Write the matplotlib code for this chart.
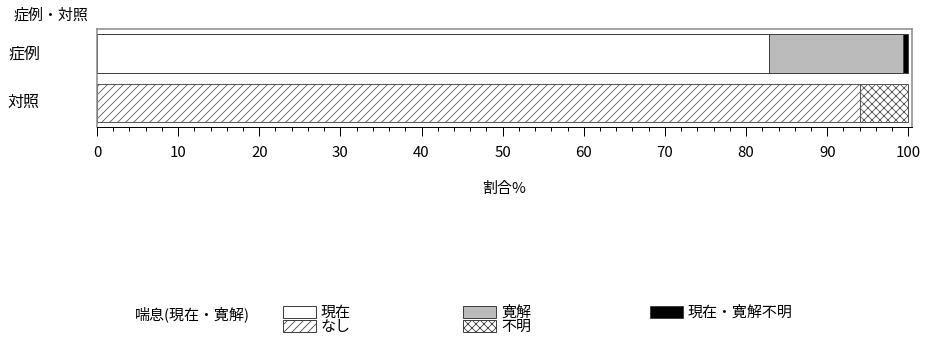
import matplotlib
matplotlib.use("Agg")
import matplotlib.pyplot as plt
from matplotlib.patches import Rectangle
from matplotlib.transforms import blended_transform_factory

plt.rcParams['font.family'] = ['Noto Sans CJK JP', 'DejaVu Sans']
plt.rcParams['hatch.linewidth'] = 0.8

# data
groups = ["症例", "対照"]
case_labels = ["現在", "寛解", "現在・寛解不明"]
case_values = [82.8, 16.5, 0.7]
ctrl_labels = ["なし", "不明"]
ctrl_values = [94.1, 5.9]

case_styles = [dict(facecolor="white", hatch=None),
               dict(facecolor="#bbbbbb", hatch=None),
               dict(facecolor="black", hatch=None)]
ctrl_styles = [dict(facecolor="white", hatch="///"),
               dict(facecolor="white", hatch="xxx")]

W, H = 927, 338
fig = plt.figure(figsize=(W / 72, H / 72), dpi=72)
ax = fig.add_axes([97 / W, (H - 127) / H, 815 / W, 98 / H])

edge = "#404040"
left = 0
for v, st in zip(case_values, case_styles):
    ax.barh(0, v, left=left, height=0.8, edgecolor=edge, linewidth=1, **st)
    left += v
left = 0
for v, st in zip(ctrl_values, ctrl_styles):
    ax.barh(1, v, left=left, height=0.78, edgecolor="#555555", linewidth=1, **st)
    left += v

ax.set_xlim(0, 100.45)
ax.set_ylim(1.49, -0.5)
for s in ["top", "right", "left"]:
    ax.spines[s].set_color("#888888")
    ax.spines[s].set_linewidth(1.5)
ax.spines["bottom"].set_color("black")
ax.spines["bottom"].set_linewidth(1)

ax.set_xticks(range(0, 101, 10))
ax.set_xticks(range(0, 101, 2), minor=True)
ax.tick_params(axis="x", which="major", length=9, width=1, labelsize=15, pad=10)
ax.tick_params(axis="x", which="minor", length=4, width=1)
ax.set_yticks([])
ax.set_xlabel("割合%", fontsize=15, labelpad=22)

tr = blended_transform_factory(fig.transFigure, ax.transData)
for i, g in enumerate(groups):
    ax.text(8 / W, i, g, transform=tr, ha="left", va="center", fontsize=16)
fig.text(13 / W, 1 - 15 / H, "症例・対照", ha="left", va="center", fontsize=15)

# legend
def legend_item(x, y, st, label):
    fig.add_artist(Rectangle((x / W, 1 - (y + 6) / H), 33 / W, 12 / H,
                             transform=fig.transFigure, edgecolor=edge,
                             linewidth=1, **st))
    fig.text((x + 38) / W, 1 - (y + 1) / H, label, ha="left", va="center", fontsize=15)

fig.text(135 / W, 1 - 314 / H, "喘息(現在・寛解)", ha="left", va="center", fontsize=15)
legend_item(283, 312, case_styles[0], case_labels[0])
legend_item(283, 326, ctrl_styles[0], ctrl_labels[0])
legend_item(463, 312, case_styles[1], case_labels[1])
legend_item(463, 326, ctrl_styles[1], ctrl_labels[1])
legend_item(650, 312, case_styles[2], case_labels[2])

fig.savefig("out.png", dpi=72)
